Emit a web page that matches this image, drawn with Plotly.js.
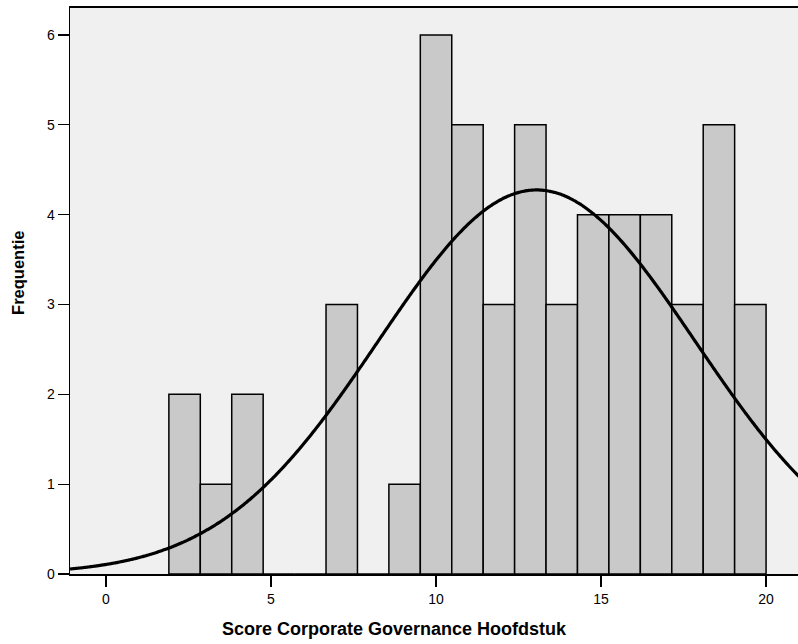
<!DOCTYPE html>
<html>
<head>
<meta charset="utf-8">
<script src="https://cdn.plot.ly/plotly-3.0.1.min.js"></script>
<style>
  html, body { margin: 0; padding: 0; background: #ffffff; }
  #chart { width: 798px; height: 644px; }
</style>
</head>
<body>
<div id="chart"></div>
<script>
// Histogram of the governance score with a fitted normal curve
const binStart = 1.905;      // left edge of the first bin
const binWidth = 0.9525;     // width of each bin
const counts = [2, 1, 2, 0, 0, 3, 0, 1, 6, 5, 3, 5, 3, 4, 4, 4, 3, 5, 3];

// Normal curve parameters (mean, standard deviation, number of cases)
const curveMean = 13.05;
const curveSD = 4.8;
const nCases = counts.reduce((a, b) => a + b, 0);

const xTicks = [0, 5, 10, 15, 20];
const yTicks = [0, 1, 2, 3, 4, 5, 6];

const xTitle = 'Score Corporate Governance Hoofdstuk';
const yTitle = 'Frequentie';

const xRange = [-1.091, 20.97];
const yRange = [0, 6.30];

const binCenters = counts.map((_, i) => binStart + binWidth * (i + 0.5));

// Expected frequency per bin under the normal distribution
const curveX = [];
const curveY = [];
for (let x = xRange[0]; x <= xRange[1] + 0.05; x += 0.05) {
  const z = (x - curveMean) / curveSD;
  curveX.push(x);
  curveY.push(nCases * binWidth * Math.exp(-0.5 * z * z) / (curveSD * Math.sqrt(2 * Math.PI)));
}

const family = 'Liberation Sans, Arial, Helvetica, sans-serif';
const tickFont = { family: family, size: 14, color: '#000000' };
const xTitleFont = { family: family, size: 18, color: '#000000' };
const yTitleFont = { family: family, size: 16.5, color: '#000000' };

const traces = [
  {
    type: 'bar',
    x: binCenters,
    y: counts,
    width: binWidth,
    marker: { color: '#c9c9c9', line: { color: '#000000', width: 1.5 } },
    hoverinfo: 'x+y'
  },
  {
    type: 'scatter',
    mode: 'lines',
    x: curveX,
    y: curveY,
    line: { color: '#000000', width: 3.2, shape: 'spline' },
    hoverinfo: 'skip'
  }
];

const layout = {
  width: 798,
  height: 644,
  margin: { l: 70, r: 0, t: 8, b: 70 },
  paper_bgcolor: '#ffffff',
  plot_bgcolor: '#f0f0f0',
  showlegend: false,
  bargap: 0,
  xaxis: {
    range: xRange,
    tickmode: 'array',
    tickvals: xTicks,
    ticktext: xTicks.map(String),
    ticks: 'outside',
    ticklen: 11,
    tickwidth: 1.3,
    tickcolor: '#000000',
    tickfont: tickFont,
    showgrid: false,
    zeroline: false,
    showline: true,
    linecolor: '#000000',
    linewidth: 2,
    mirror: true
  },
  yaxis: {
    range: yRange,
    tickmode: 'array',
    tickvals: yTicks,
    ticktext: yTicks.map(String),
    ticks: 'outside',
    ticklen: 11,
    tickwidth: 1.3,
    tickcolor: '#000000',
    tickfont: tickFont,
    showgrid: false,
    zeroline: false,
    showline: true,
    linecolor: '#000000',
    linewidth: 1.5
  },
  annotations: [
    {
      text: '<b>' + xTitle + '</b>',
      xref: 'paper', yref: 'paper',
      x: 0.4464, y: -0.0972,
      xanchor: 'center', yanchor: 'middle',
      showarrow: false,
      font: xTitleFont
    },
    {
      text: '<b>' + yTitle + '</b>',
      xref: 'paper', yref: 'paper',
      x: -0.0714, y: 0.532,
      xanchor: 'center', yanchor: 'middle',
      textangle: -90,
      showarrow: false,
      font: yTitleFont
    }
  ]
};

Plotly.newPlot('chart', traces, layout, { displayModeBar: false, staticPlot: true });
</script>
</body>
</html>
